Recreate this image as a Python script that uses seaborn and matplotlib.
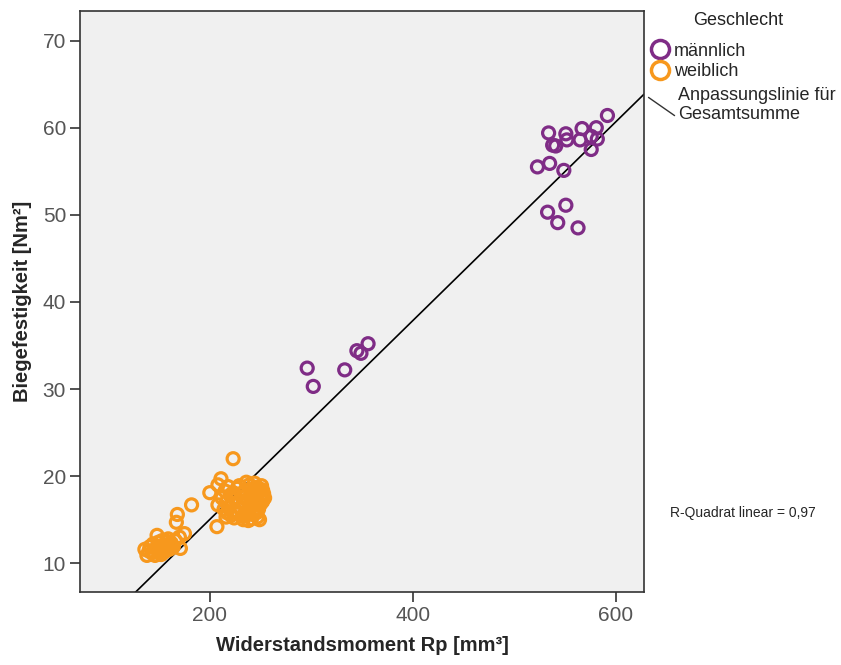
import matplotlib
matplotlib.use("Agg")
import matplotlib.pyplot as plt
from matplotlib.lines import Line2D
import numpy as np
import pandas as pd
import seaborn as sns

# Widerstandsmoment Rp [mm3] / Biegefestigkeit [Nm2]
male_rp = [592, 534, 551, 567, 581, 538, 541, 552, 565, 576, 582, 576,
           523, 535, 549, 533, 551, 543, 563,
           296, 302, 333, 345, 349, 356]
male_bf = [61.4, 59.4, 59.3, 59.9, 60.0, 58.0, 57.9, 58.6, 58.6, 59.0, 58.7, 57.5,
           55.5, 55.9, 55.1, 50.3, 51.1, 49.1, 48.5,
           32.4, 30.3, 32.2, 34.4, 34.1, 35.2]

female_rp = [136, 138, 141, 143, 146, 148, 150, 152, 154, 156, 158, 161, 163, 166,
             168, 167, 171, 170, 175, 182,
             140, 144, 147, 149, 151, 153, 155, 157, 159, 160, 162, 164,
             200, 208, 211, 223, 207, 216, 249, 208,
             212, 214, 215, 216, 217, 218, 219, 220, 221, 222, 223, 224, 225, 226,
             227, 228, 229, 230, 231, 232, 233, 234, 235, 236, 237, 238, 239, 240,
             241, 242, 243, 244, 245, 246, 247, 248, 249, 250, 251, 252, 253, 247,
             244, 236, 229, 241, 238, 233, 250, 246, 254, 252, 243, 239,
             240, 244, 248, 242, 246, 250]
female_bf = [11.6, 10.9, 11.9, 11.2, 10.9, 13.2, 11.4, 11.0, 12.1, 11.6, 12.5, 12.0, 11.8, 12.6,
             15.6, 14.7, 11.7, 13.0, 13.4, 16.7,
             11.4, 12.2, 11.7, 12.4, 11.9, 12.6, 11.3, 12.0, 12.8, 11.6, 12.3, 11.9,
             18.1, 19.0, 19.7, 22.0, 14.2, 15.3, 15.0, 16.7,
             17.5, 16.2, 18.3, 17.0, 15.8, 18.8, 16.5, 17.8, 15.5, 16.9, 18.1, 15.2, 17.3, 16.0,
             18.6, 15.7, 17.0, 16.4, 18.0, 15.4, 17.6, 16.8, 18.4, 15.9, 17.2, 16.3, 19.0, 17.8,
             16.6, 18.2, 15.6, 17.4, 16.9, 18.7, 17.9, 16.2, 18.3, 17.6, 18.9, 17.1, 18.0, 15.3,
             19.2, 19.3, 18.9, 15.1, 14.9, 15.0, 16.8, 15.8, 17.5, 18.4, 17.7, 16.1,
             18.5, 18.2, 18.6, 17.8, 17.3, 17.6]

groups = ["männlich", "weiblich"]
colors = {"männlich": "#7f2c86", "weiblich": "#f7981d"}
r2_text = "R-Quadrat linear = 0,97"

df = pd.DataFrame({
    "Rp": male_rp + female_rp,
    "Bf": male_bf + female_bf,
    "Geschlecht": [groups[0]] * len(male_rp) + [groups[1]] * len(female_rp),
})

sns.set_style("white")
plt.rcParams["font.family"] = ["Liberation Sans", "DejaVu Sans"]

fig = plt.figure(figsize=(8.41, 6.65), dpi=100)
ax = fig.add_axes([0.0951, 0.1098, 0.6706, 0.8737])
ax.set_facecolor("#f0f0f0")
ax.set_xlim(72, 628)
ax.set_ylim(6.7, 73.4)

sns.scatterplot(data=df, x="Rp", y="Bf", hue="Geschlecht", palette=colors,
                s=75, legend=False, ax=ax, zorder=3)
coll = ax.collections[0]
fc = coll.get_facecolors()
coll.set_edgecolors(fc)
coll.set_facecolors("none")
coll.set_linewidths(2.3)

# fit line for all points
slope, icpt = np.polyfit(df["Rp"], df["Bf"], 1)
sns.regplot(data=df, x="Rp", y="Bf", scatter=False, ci=None, truncate=False,
            color="black", line_kws={"lw": 1.2}, ax=ax)
ax.set_xlim(72, 628)
ax.set_ylim(6.7, 73.4)

ax.set_xticks([200, 400, 600])
ax.set_yticks([10, 20, 30, 40, 50, 60, 70])
ax.tick_params(axis="both", direction="out", length=7, width=1.2, color="#333333",
               labelsize=15, labelcolor="#555555", pad=3, left=True, bottom=True)
for sp in ax.spines.values():
    sp.set_color("#333333")
    sp.set_linewidth(1.2)

ax.set_xlabel("Widerstandsmoment Rp [mm³]", fontsize=14.5, fontweight="bold", labelpad=8)
ax.set_ylabel("Biegefestigkeit [Nm²]", fontsize=14.5, fontweight="bold", labelpad=8)

handles = [Line2D([], [], ls="none", marker="o", ms=13, mfc="none", mew=2.5,
                  mec=colors[g]) for g in groups]
fig.legend(handles, groups, loc="upper left", bbox_to_anchor=(0.757, 0.955),
           frameon=False, fontsize=13, handletextpad=0.15, handlelength=1.2,
           labelspacing=0.2, borderpad=0.2)
fig.text(0.878, 0.969, "Geschlecht", fontsize=13, ha="center", va="center",
         color="#222222")

x_end = ax.get_xlim()[1]
ax.annotate("Anpassungslinie für\nGesamtsumme", xy=(x_end, slope * x_end + icpt),
            xycoords="data", xytext=(0.806, 0.842), textcoords="figure fraction",
            fontsize=13, va="center", ha="left", annotation_clip=False,
            arrowprops=dict(arrowstyle="-", color="#333333", lw=1.0,
                            shrinkA=0, shrinkB=4, relpos=(0, 0.15)))

fig.text(0.797, 0.228, r2_text, fontsize=10, ha="left", va="center")

fig.savefig("out.png", dpi=100, facecolor="white")
